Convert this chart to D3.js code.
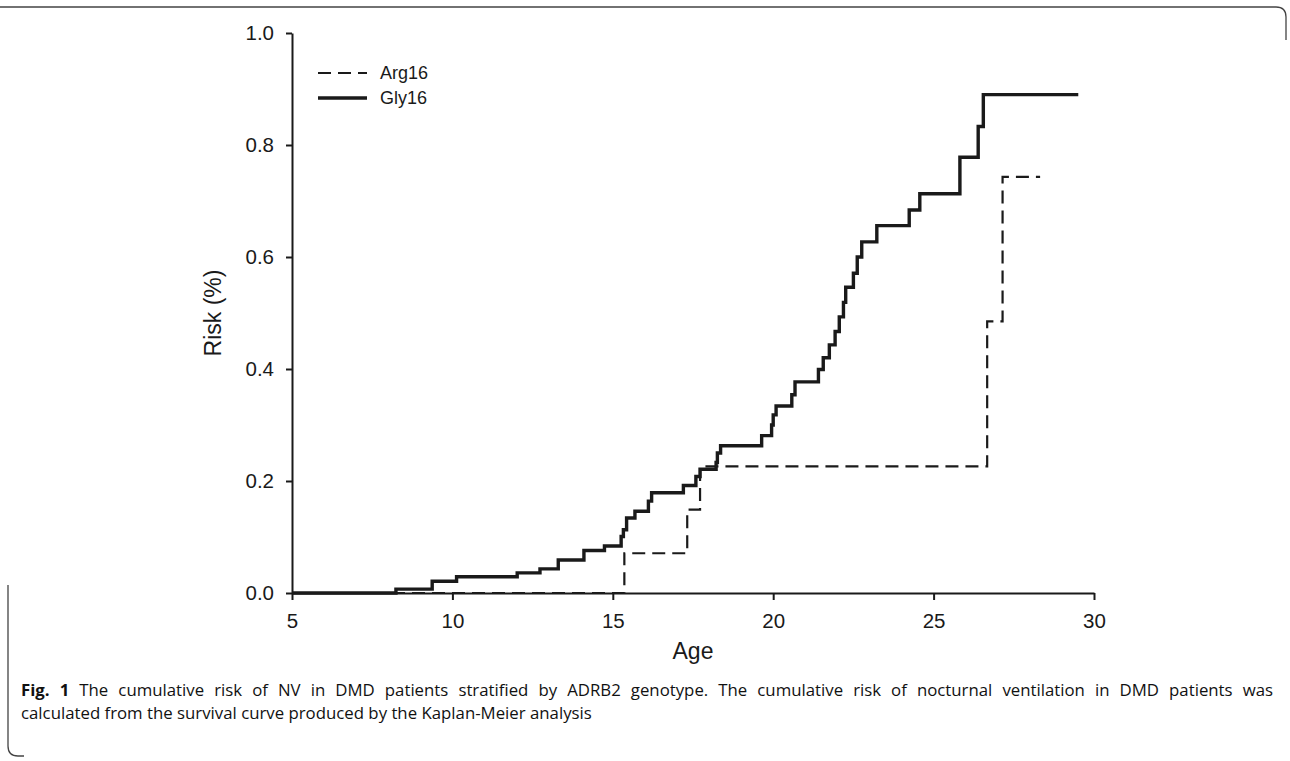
<!DOCTYPE html>
<html>
<head>
<meta charset="utf-8">
<script src="https://cdn.jsdelivr.net/npm/d3@7"></script>
<style>
  body { margin: 0; background: #fff; }
  svg { display: block; }
  .axis path, .axis line { stroke: #1a1a1a; stroke-width: 2px; }
  .axis text { font-family: 'Liberation Sans', Arial, sans-serif; font-size: 20.5px; fill: #1a1a1a; }
</style>
</head>
<body>
<div id="chart"></div>
<script>
// Kaplan-Meier cumulative risk (age, risk after the step)
const glyAge = [5, 8.24, 9.37, 10.13, 12.02, 12.73, 13.30, 14.10, 14.74, 15.26, 15.33, 15.43, 15.69,
  16.11, 16.21, 17.20, 17.59, 17.72, 18.22, 18.26, 18.36, 19.64, 19.95, 20.00, 20.09, 20.58, 20.68,
  21.41, 21.56, 21.75, 21.93, 22.06, 22.19, 22.26, 22.50, 22.62, 22.76, 23.23, 24.24, 24.57, 25.82,
  26.39, 26.55, 29.51];
const glyRisk = [0, 0.007, 0.021, 0.029, 0.036, 0.043, 0.059, 0.076, 0.084, 0.101, 0.113, 0.134, 0.146,
  0.164, 0.179, 0.192, 0.208, 0.221, 0.233, 0.250, 0.263, 0.281, 0.300, 0.318, 0.334, 0.354, 0.377,
  0.399, 0.420, 0.443, 0.467, 0.493, 0.519, 0.546, 0.571, 0.600, 0.627, 0.656, 0.684, 0.713, 0.778,
  0.833, 0.890, 0.890];
const argAge = [5, 15.36, 17.32, 17.72, 26.67, 27.15, 28.32];
const argRisk = [0, 0.071, 0.149, 0.226, 0.485, 0.743, 0.743];

const xTicks = [5, 10, 15, 20, 25, 30];
const yTicks = [0, 0.2, 0.4, 0.6, 0.8, 1.0];
const seriesNames = ['Arg16', 'Gly16'];

const W = 1290, H = 761;
const margin = { left: 292, right: 196, top: 33, bottom: 168 };

const svg = d3.select('#chart').append('svg')
  .attr('width', W)
  .attr('height', H);

// Figure frame (cropped panel border)
svg.append('path')
  .attr('d', 'M0,7 L1276,7 Q1286,7 1286,17 L1286,40')
  .attr('fill', 'none').attr('stroke', '#444').attr('stroke-width', 1.3);
svg.append('path')
  .attr('d', 'M8,585 L8,746 Q8,756 18,756 L24,756')
  .attr('fill', 'none').attr('stroke', '#444').attr('stroke-width', 1.3);

const x = d3.scaleLinear().domain([5, 30]).range([margin.left, W - margin.right]);
const y = d3.scaleLinear().domain([0, 1]).range([H - margin.bottom, margin.top]);

// Axes
const xAxis = svg.append('g')
  .attr('class', 'axis')
  .attr('transform', 'translate(0,' + (H - margin.bottom) + ')')
  .call(d3.axisBottom(x).tickValues(xTicks).tickSize(7).tickSizeOuter(0).tickPadding(13));
xAxis.selectAll('text').attr('dy', '0.71em');

svg.append('g')
  .attr('class', 'axis')
  .attr('transform', 'translate(' + margin.left + ',0)')
  .call(d3.axisLeft(y).tickValues(yTicks).tickFormat(d3.format('.1f')).tickSize(6).tickSizeOuter(0).tickPadding(12));

// Axis titles
svg.append('text')
  .attr('x', (x(5) + x(30)) / 2)
  .attr('y', 659)
  .attr('text-anchor', 'middle')
  .attr('font-family', 'Liberation Sans, Arial, sans-serif')
  .attr('font-size', '23px')
  .attr('fill', '#1a1a1a')
  .text('Age');
svg.append('text')
  .attr('transform', 'translate(221,' + y(0.5) + ') rotate(-90)')
  .attr('text-anchor', 'middle')
  .attr('font-family', 'Liberation Sans, Arial, sans-serif')
  .attr('font-size', '23px')
  .attr('fill', '#1a1a1a')
  .text('Risk (%)');

// Step curves
const line = d3.line()
  .x(d => x(d[0]))
  .y(d => y(d[1]))
  .curve(d3.curveStepAfter);

svg.append('path')
  .datum(argAge.map((a, i) => [a, argRisk[i]]))
  .attr('fill', 'none')
  .attr('stroke', '#1a1a1a')
  .attr('stroke-width', 2.2)
  .attr('stroke-dasharray', '13,7')
  .attr('d', line);

svg.append('path')
  .datum(glyAge.map((a, i) => [a, glyRisk[i]]))
  .attr('fill', 'none')
  .attr('stroke', '#1a1a1a')
  .attr('stroke-width', 3.4)
  .attr('d', line);

// Legend
const legend = svg.append('g').attr('transform', 'translate(318,73)');
seriesNames.forEach((name, i) => {
  const row = legend.append('g').attr('transform', 'translate(0,' + i * 25 + ')');
  row.append('line')
    .attr('x1', 0).attr('x2', 49)
    .attr('stroke', '#1a1a1a')
    .attr('stroke-width', i === 0 ? 2.2 : 3.6)
    .attr('stroke-dasharray', i === 0 ? '13,7' : null);
  row.append('text')
    .attr('x', 62)
    .attr('dy', '0.35em')
    .attr('font-family', 'Liberation Sans, Arial, sans-serif')
    .attr('font-size', '18px')
    .attr('fill', '#1a1a1a')
    .text(name);
});

// Caption (first line justified by widening the word gaps)
const capLabel = 'Fig. 1';
const capText1 = ' The cumulative risk of NV in DMD patients stratified by ADRB2 genotype. The cumulative risk of nocturnal ventilation in DMD patients was';
const cap1 = svg.append('text')
  .attr('x', 21).attr('y', 696)
  .attr('font-family', "'Open Sans', 'Noto Sans', sans-serif")
  .attr('font-size', '16.8px')
  .attr('fill', '#111');
cap1.append('tspan').attr('font-weight', 'bold').text(capLabel);
cap1.append('tspan').text(capText1);
const natural = cap1.node().getComputedTextLength();
const gaps = (capLabel + capText1).split(' ').length - 1;
cap1.attr('word-spacing', Math.max(0, (1252 - natural) / gaps));

svg.append('text')
  .attr('x', 21).attr('y', 719)
  .attr('font-family', "'Open Sans', 'Noto Sans', sans-serif")
  .attr('font-size', '16.8px')
  .attr('fill', '#111')
  .text('calculated from the survival curve produced by the Kaplan-Meier analysis');
</script>
</body>
</html>
